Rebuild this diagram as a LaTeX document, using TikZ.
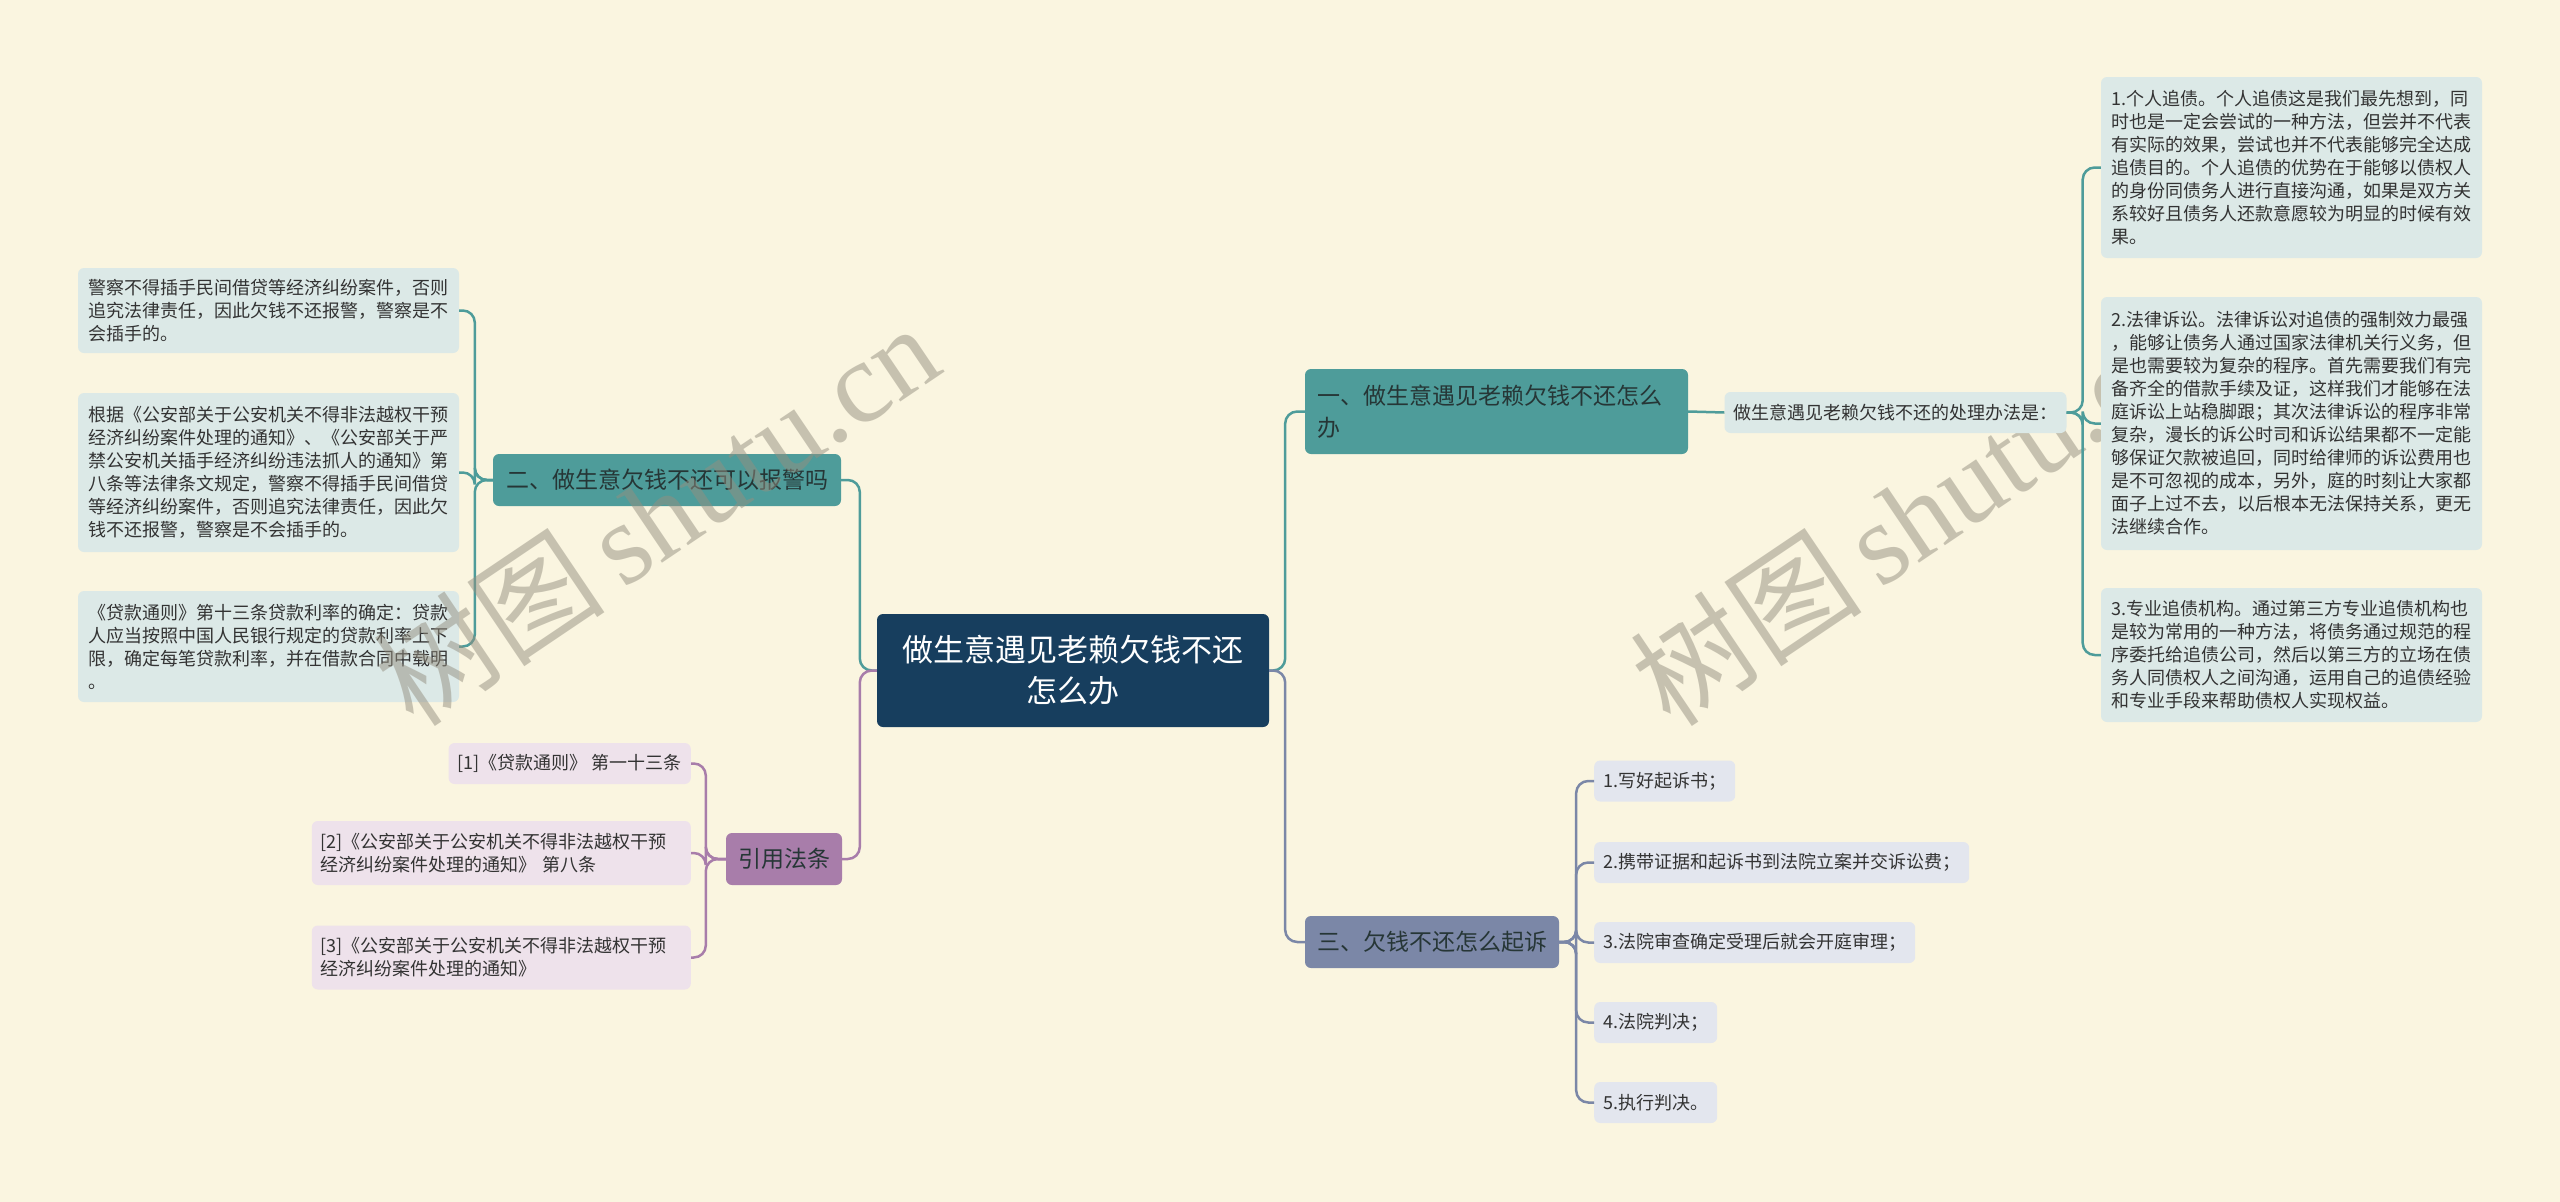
\documentclass[tikz,border=0pt]{standalone}
\usepackage{fontspec}
\setmainfont{Noto Sans CJK SC}
\newfontfamily\wmserif{Liberation Serif}
\definecolor{bg}{HTML}{FAF5E0}
\definecolor{teal}{HTML}{4E9C9A}
\definecolor{boxblue}{HTML}{DCE9E7}
\definecolor{centerc}{HTML}{173E5E}
\definecolor{slate}{HTML}{7B87A7}
\definecolor{itembg}{HTML}{E3E6EE}
\definecolor{purp}{HTML}{A87DAA}
\definecolor{refbg}{HTML}{EEE2EB}
\definecolor{txt}{HTML}{333333}
\definecolor{darktxt}{HTML}{263636}
\definecolor{wm}{HTML}{948F80}
\tikzset{
  base/.style={rectangle, rounded corners=6pt, inner ysep=0pt, text=txt},
  txtbox/.style={base, fill=boxblue, font=\fontsize{18}{23}\selectfont, align=left, inner xsep=10pt, text width=361pt},
  smallbox/.style={base, font=\fontsize{18}{23}\selectfont, inner xsep=9pt, minimum height=41pt},
  topic/.style={base, font=\fontsize{23}{32}\selectfont, text=darktxt, inner xsep=12pt, minimum height=52pt},
  tl/.style={draw=teal, line width=2.5pt, rounded corners=12pt},
  sl/.style={draw=slate, line width=2.5pt, rounded corners=12pt},
  pl/.style={draw=purp, line width=2.5pt, rounded corners=12pt},
  wmark/.style={rotate=34, text=wm, opacity=0.5, font=\fontsize{116}{116}\selectfont}
}
\begin{document}
\begin{tikzpicture}[x=1pt,y=-1pt]
\fill[bg] (0,0) rectangle (2560,1202);
\useasboundingbox (0,0) rectangle (2560,1202);

% right watermark (lies beneath the boxes)
\node[wmark] (w2) at (1913,514) {树图\,{\wmserif shutu.cn}};

% central
\node[base, fill=centerc, text=white, font=\fontsize{31}{41}\selectfont, align=center,
      minimum width=392pt, minimum height=113pt] (c) at (1073,670.5)
      {做生意遇见老赖欠钱不还\\怎么办};

% branch 1
\node[topic, fill=teal, align=left, text width=359pt, minimum height=85pt] (n1) at (1496.5,411.5)
      {一、做生意遇见老赖欠钱不还怎么\\办};
\node[smallbox, fill=boxblue] (p) at (1895.5,412.5) {做生意遇见老赖欠钱不还的处理办法是：};
\node[txtbox, minimum height=181pt] (r1) at (2291.5,167.5)
{1.个人追债。个人追债这是我们最先想到，同\\时也是一定会尝试的一种方法，但尝并不代表\\有实际的效果，尝试也并不代表能够完全达成\\追债目的。个人追债的优势在于能够以债权人\\的身份同债务人进行直接沟通，如果是双方关\\系较好且债务人还款意愿较为明显的时候有效\\果。};
\node[txtbox, minimum height=253pt] (r2) at (2291.5,423.5)
{2.法律诉讼。法律诉讼对追债的强制效力最强\\，能够让债务人通过国家法律机关行义务，但\\是也需要较为复杂的程序。首先需要我们有完\\备齐全的借款手续及证，这样我们才能够在法\\庭诉讼上站稳脚跟；其次法律诉讼的程序非常\\复杂，漫长的诉公时司和诉讼结果都不一定能\\够保证欠款被追回，同时给律师的诉讼费用也\\是不可忽视的成本，另外，庭的时刻让大家都\\面子上过不去，以后根本无法保持关系，更无\\法继续合作。};
\node[txtbox, minimum height=134pt] (r3) at (2291.5,655)
{3.专业追债机构。通过第三方专业追债机构也\\是较为常用的一种方法，将债务通过规范的程\\序委托给追债公司，然后以第三方的立场在债\\务人同债权人之间沟通，运用自己的追债经验\\和专业手段来帮助债权人实现权益。};

% branch 2
\node[topic, fill=teal, minimum width=348pt] (n2) at (667,480) {二、做生意欠钱不还可以报警吗};
\node[txtbox, minimum height=85pt] (l1) at (268.5,310.5)
{警察不得插手民间借贷等经济纠纷案件，否则\\追究法律责任，因此欠钱不还报警，警察是不\\会插手的。};
\node[txtbox, minimum height=159pt] (l2) at (268.5,472.5)
{根据《公安部关于公安机关不得非法越权干预\\经济纠纷案件处理的通知》、《公安部关于严\\禁公安机关插手经济纠纷违法抓人的通知》第\\八条等法律条文规定，警察不得插手民间借贷\\等经济纠纷案件，否则追究法律责任，因此欠\\钱不还报警，警察是不会插手的。};
\node[txtbox, minimum height=111pt] (l3) at (268.5,646.5)
{《贷款通则》第十三条贷款利率的确定：贷款\\人应当按照中国人民银行规定的贷款利率上下\\限，确定每笔贷款利率，并在借款合同中载明\\。};

% branch 3
\node[topic, fill=slate, minimum width=254pt] (n3) at (1432,942) {三、欠钱不还怎么起诉};
\node[smallbox, fill=itembg, anchor=west] (i1) at (1594,781) {1.写好起诉书；};
\node[smallbox, fill=itembg, anchor=west] (i2) at (1594,862.5) {2.携带证据和起诉书到法院立案并交诉讼费；};
\node[smallbox, fill=itembg, anchor=west] (i3) at (1594,942.5) {3.法院审查确定受理后就会开庭审理；};
\node[smallbox, fill=itembg, anchor=west] (i4) at (1594,1022.5) {4.法院判决；};
\node[smallbox, fill=itembg, anchor=west] (i5) at (1594,1102.5) {5.执行判决。};

% branch 4
\node[topic, fill=purp, minimum width=114pt] (n4) at (784,859) {引用法条};
\node[smallbox, fill=refbg, anchor=east] (f1) at (691,763.5) {[1]《贷款通则》 第一十三条};
\node[base, fill=refbg, anchor=east, font=\fontsize{18}{23}\selectfont, align=left,
      inner xsep=8.5pt, text width=362pt, minimum height=64pt] (f2) at (691,853)
      {[2]《公安部关于公安机关不得非法越权干预\\经济纠纷案件处理的通知》 第八条};
\node[base, fill=refbg, anchor=east, font=\fontsize{18}{23}\selectfont, align=left,
      inner xsep=8.5pt, text width=362pt, minimum height=64pt] (f3) at (691,957.5)
      {[3]《公安部关于公安机关不得非法越权干预\\经济纠纷案件处理的通知》};

% connectors
\draw[tl] (c.west) -- ++(-17,0) |- (n2.east);
\draw[pl] (c.west) -- ++(-17,0) |- (n4.east);
\draw[tl] (c.east) -- ++(16,0) |- (n1.west);
\draw[sl] (c.east) -- ++(16,0) |- (n3.west);
\draw[tl] (n1.east) -- (p.west);
\foreach \r in {r1,r2,r3} \draw[tl] (p.east) -- ++(16,0) |- (\r.west);
\foreach \l in {l1,l2,l3} \draw[tl] (n2.west) -- ++(-18,0) |- (\l.east);
\foreach \i in {i1,i2,i3,i4,i5} \draw[sl] (n3.east) -- ++(17,0) |- (\i.west);
\foreach \f in {f1,f2,f3} \draw[pl] (n4.west) -- ++(-20,0) |- (\f.east);

% left watermark (lies over the boxes)
\node[wmark] (w1) at (656,514) {树图\,{\wmserif shutu.cn}};
\end{tikzpicture}
\end{document}
